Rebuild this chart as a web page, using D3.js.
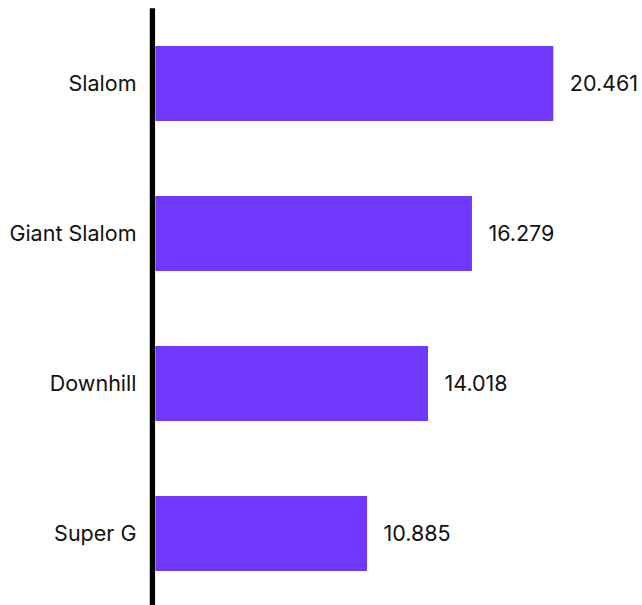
<!DOCTYPE html>
<html><head><meta charset="utf-8">
<script src="https://cdn.jsdelivr.net/npm/d3@7"></script>
<style>body{margin:0;background:#fff}svg{display:block}text{font-family:Inter,sans-serif}</style>
</head><body>
<script>
const categories = ["Slalom", "Giant Slalom", "Downhill", "Super G"];
const values = [20.461, 16.279, 14.018, 10.885];

const W = 642, H = 605;
const svg = d3.select("body").append("svg").attr("width", W).attr("height", H);
const x0 = 155.3;
const x = d3.scaleLinear().domain([0, 20.461]).range([x0, 553.3]);
const y = d3.scaleBand().domain(categories).range([8.5, 608.5]).paddingInner(0.5).paddingOuter(0.25);
const FS = 21.5;

svg.selectAll("rect.bar").data(values).join("rect")
  .attr("class","bar")
  .attr("x", x0)
  .attr("y", (d,i) => y(categories[i]))
  .attr("width", d => x(d) - x0)
  .attr("height", y.bandwidth())
  .attr("fill", "#7038fd");

svg.selectAll("text.val").data(values).join("text")
  .attr("class","val")
  .attr("x", d => x(d) + 16.5)
  .attr("y", (d,i) => y(categories[i]) + y.bandwidth()/2)
  .attr("dy","0.35em")
  .attr("font-size", FS)
  .attr("fill", "#111")
  .text(d => d3.format(".3f")(d));

svg.selectAll("text.cat").data(categories).join("text")
  .attr("class","cat")
  .attr("x", 136.5)
  .attr("y", d => y(d) + y.bandwidth()/2)
  .attr("dy","0.35em")
  .attr("text-anchor","end")
  .attr("font-size", FS)
  .attr("fill", "#111")
  .text(d => d);

svg.append("line").attr("x1",152.4).attr("x2",152.4).attr("y1",8.3).attr("y2",H)
  .attr("stroke","#000").attr("stroke-width",5.3);
</script>
</body></html>
